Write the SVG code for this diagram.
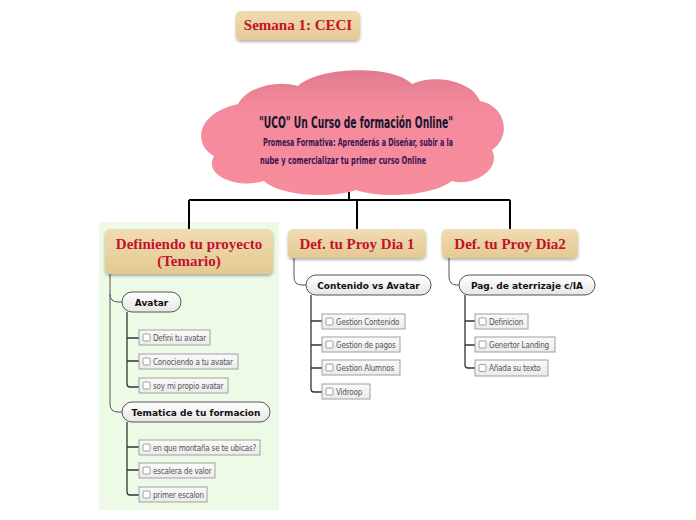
<svg xmlns="http://www.w3.org/2000/svg" width="696" height="520" viewBox="0 0 696 520">
<defs>
<linearGradient id="tan" x1="0" y1="0" x2="0" y2="1"><stop offset="0" stop-color="#F0DCB2"/><stop offset="1" stop-color="#E4C993"/></linearGradient>
<linearGradient id="pink" x1="0" y1="0" x2="0" y2="1"><stop offset="0" stop-color="#E07C8E"/><stop offset="0.3" stop-color="#F48A9B"/><stop offset="1" stop-color="#F68C9C"/></linearGradient>
<linearGradient id="oval" x1="0" y1="0" x2="0" y2="1"><stop offset="0" stop-color="#FFFFFF"/><stop offset="1" stop-color="#E6E6E6"/></linearGradient>
<linearGradient id="leaf" x1="0" y1="0" x2="0" y2="1"><stop offset="0" stop-color="#FAFAFA"/><stop offset="1" stop-color="#EBEBEB"/></linearGradient>
<filter id="sh" x="-10%" y="-20%" width="120%" height="150%"><feDropShadow dx="0" dy="2" stdDeviation="1.5" flood-color="#000" flood-opacity="0.3"/></filter>
</defs>
<style>
.main{fill:url(#tan);filter:url(#sh)}
.mt{font-family:"Liberation Serif",serif;font-weight:bold;font-size:15px;fill:#C4102C;text-anchor:middle}
.ov{fill:url(#oval);stroke:#555;stroke-width:1}
.ot{font-family:"DejaVu Sans",sans-serif;font-weight:bold;font-size:9px;fill:#111;text-anchor:middle}
.lf{fill:url(#leaf);stroke:#A0A0A0;stroke-width:1}
.cb{fill:#fff;stroke:#888;stroke-width:0.8}
.lt{font-family:"DejaVu Sans Condensed","DejaVu Sans",sans-serif;font-size:8px;fill:#555;letter-spacing:-0.2px}
.c1{fill:none;stroke:#000;stroke-width:2}
.c2{fill:none;stroke:#555;stroke-width:1}
.c3{fill:none;stroke:#333;stroke-width:1.3}
.cl{font-family:"DejaVu Sans Condensed","DejaVu Sans",sans-serif}
</style>
<rect x="99" y="222" width="180" height="288" fill="#EDFBE6"/>
<g id="connectors">
<path class="c1" d="M349,192 V200 M189,200 H510 M189,200 V229 M357,200 V229 M510,200 V229"/>
<path class="c2" d="M110,274 V404 Q110,412 118,412 H122 M110,294 Q110,302 118,302 H122"/>
<path class="c2" d="M294,258 V277 Q294,285 302,285 H306"/>
<path class="c2" d="M449,258 V277 Q449,285 457,285 H459"/>
<path class="c3" d="M127,312 V384 Q127,387 130,387 H139 M127,338 H139 M127,361 H139"/>
<path class="c3" d="M127,422 V492 Q127,495 130,495 H139 M127,447 H139 M127,470 H139"/>
<path class="c3" d="M311,295 V389 Q311,392 314,392 H322 M311,321 H322 M311,345 H322 M311,368 H322"/>
<path class="c3" d="M465,295 V365 Q465,368 468,368 H475 M465,321 H475 M465,345 H475"/>
</g>
<g id="title">
<rect class="main" x="236" y="11" width="124" height="29" rx="5"/>
<text class="mt" x="298" y="30">Semana 1: CECI</text>
</g>
<g id="cloud">
<path fill="url(#pink)" d="M238,104 C248,86 278,80 298,86 C318,67 392,64 412,84 C432,74 472,80 480,101 C506,106 512,136 492,150 C502,170 472,187 452,181 C432,196 382,199 356,190 C330,199 280,196 264,181 C238,189 203,176 214,156 C194,146 194,114 238,104 Z"/>
<text class="cl" x="259" y="128" font-weight="bold" font-size="15px" fill="#15142E" textLength="194" lengthAdjust="spacingAndGlyphs">"UCO" Un Curso de formación Online"</text>
<text class="cl" x="263" y="146" font-size="10px" font-weight="600" fill="#3A1352" textLength="190" lengthAdjust="spacingAndGlyphs">Promesa Formativa: Aprenderás a Diseñar, subir a la</text>
<text class="cl" x="260" y="164" font-size="10px" font-weight="600" fill="#3A1352" textLength="166" lengthAdjust="spacingAndGlyphs">nube y comercializar tu primer curso Online</text>
</g>
<g id="n1">
<rect class="main" x="105" y="229" width="168" height="45" rx="5"/>
<text class="mt" x="189" y="249">Definiendo tu proyecto</text>
<text class="mt" x="189" y="266">(Temario)</text>
</g>
<g id="n2">
<rect class="main" x="288" y="229" width="138" height="29" rx="5"/>
<text class="mt" x="357" y="249">Def. tu Proy Dia 1</text>
</g>
<g id="n3">
<rect class="main" x="442" y="229" width="136" height="29" rx="5"/>
<text class="mt" x="510" y="249">Def. tu Proy Dia2</text>
</g>
<g id="avatar"><rect class="ov" x="122" y="292" width="59" height="20" rx="10"/><text class="ot" x="151.5" y="305.5">Avatar</text></g>
<g id="tematica"><rect class="ov" x="122" y="402" width="148" height="20" rx="10"/><text class="ot" x="196" y="415.5">Tematica de tu formacion</text></g>
<g id="contenido"><rect class="ov" x="306" y="275" width="125" height="20" rx="10"/><text class="ot" x="368.5" y="288.5">Contenido vs Avatar</text></g>
<g id="pag"><rect class="ov" x="459" y="275" width="136" height="20" rx="10"/><text class="ot" x="527" y="288.5">Pag. de aterrizaje c/IA</text></g>
<g id="l1"><rect class="lf" x="139" y="330" width="71" height="15"/><rect class="cb" x="143" y="334" width="7" height="7" rx="1"/><text class="lt" x="153" y="340.5">Defini tu avatar</text></g>
<g id="l2"><rect class="lf" x="139" y="354" width="99" height="15"/><rect class="cb" x="143" y="358" width="7" height="7" rx="1"/><text class="lt" x="153" y="364.5">Conociendo a tu avatar</text></g>
<g id="l3"><rect class="lf" x="139" y="378" width="89" height="15"/><rect class="cb" x="143" y="382" width="7" height="7" rx="1"/><text class="lt" x="153" y="388.5">soy mi propio avatar</text></g>
<g id="l4"><rect class="lf" x="139" y="440" width="121" height="15"/><rect class="cb" x="143" y="444" width="7" height="7" rx="1"/><text class="lt" x="153" y="450.5">en que montaña se te ubicas?</text></g>
<g id="l5"><rect class="lf" x="139" y="463" width="76" height="15"/><rect class="cb" x="143" y="467" width="7" height="7" rx="1"/><text class="lt" x="153" y="473.5">escalera de valor</text></g>
<g id="l6"><rect class="lf" x="139" y="487" width="68" height="15"/><rect class="cb" x="143" y="491" width="7" height="7" rx="1"/><text class="lt" x="153" y="497.5">primer escalon</text></g>
<g id="l7"><rect class="lf" x="322" y="314" width="83" height="15"/><rect class="cb" x="326" y="318" width="7" height="7" rx="1"/><text class="lt" x="336" y="324.5">Gestion Contenido</text></g>
<g id="l8"><rect class="lf" x="322" y="337" width="78" height="15"/><rect class="cb" x="326" y="341" width="7" height="7" rx="1"/><text class="lt" x="336" y="347.5">Gestion de pagos</text></g>
<g id="l9"><rect class="lf" x="322" y="360" width="78" height="15"/><rect class="cb" x="326" y="364" width="7" height="7" rx="1"/><text class="lt" x="336" y="370.5">Gestion Alumnos</text></g>
<g id="l10"><rect class="lf" x="322" y="384" width="48" height="15"/><rect class="cb" x="326" y="388" width="7" height="7" rx="1"/><text class="lt" x="336" y="394.5">Vidroop</text></g>
<g id="l11"><rect class="lf" x="475" y="314" width="53" height="15"/><rect class="cb" x="479" y="318" width="7" height="7" rx="1"/><text class="lt" x="489" y="324.5">Definicion</text></g>
<g id="l12"><rect class="lf" x="475" y="337" width="80" height="15"/><rect class="cb" x="479" y="341" width="7" height="7" rx="1"/><text class="lt" x="489" y="347.5">Genertor Landing</text></g>
<g id="l13"><rect class="lf" x="475" y="360" width="73" height="16"/><rect class="cb" x="479" y="364.5" width="7" height="7" rx="1"/><text class="lt" x="489" y="371">Añada su texto</text></g>
</svg>
